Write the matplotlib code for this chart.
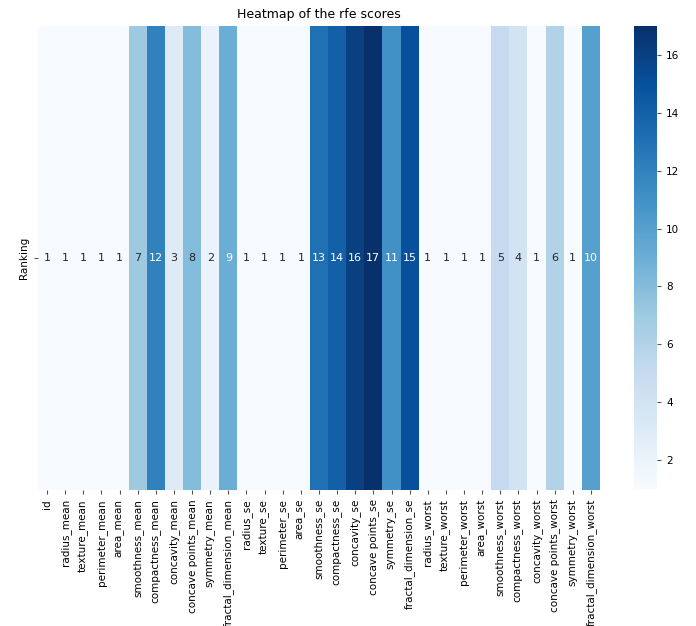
import numpy as np
import pandas as pd
import matplotlib
matplotlib.use("Agg")
import matplotlib.pyplot as plt
import seaborn as sns

features = ["id", "radius_mean", "texture_mean", "perimeter_mean", "area_mean",
            "smoothness_mean", "compactness_mean", "concavity_mean",
            "concave points_mean", "symmetry_mean", "fractal_dimension_mean",
            "radius_se", "texture_se", "perimeter_se", "area_se", "smoothness_se",
            "compactness_se", "concavity_se", "concave points_se", "symmetry_se",
            "fractal_dimension_se", "radius_worst", "texture_worst",
            "perimeter_worst", "area_worst", "smoothness_worst",
            "compactness_worst", "concavity_worst", "concave points_worst",
            "symmetry_worst", "fractal_dimension_worst"]
ranking = [1, 1, 1, 1, 1, 7, 12, 3, 8, 2, 9, 1, 1, 1, 1, 13, 14, 16, 17, 11, 15,
           1, 1, 1, 1, 5, 4, 1, 6, 1, 10]

df = pd.DataFrame([ranking], columns=features, index=["Ranking"])

fig = plt.figure(figsize=(6.96, 6.26), dpi=100)
ax = fig.add_axes([38/696, 1-490/626, 562/696, 464/626])
cax = fig.add_axes([634/696, 1-489/626, 23/696, 463/626])

sns.heatmap(df, annot=True, cmap="Blues", ax=ax, cbar_ax=cax,
            annot_kws={"fontsize": 8})
ax.set_title("Heatmap of the rfe scores", fontsize=9)
ax.tick_params(axis="both", labelsize=7.5, length=3, color="#555555")
plt.setp(ax.get_xticklabels(), rotation=90)
plt.setp(ax.get_yticklabels(), rotation=90, va="center")
cax.tick_params(labelsize=7.5, length=3, color="#555555")
cax.set_yticks([2, 4, 6, 8, 10, 12, 14, 16])
for sp in cax.spines.values():
    sp.set_visible(False)

fig.savefig("out.png", dpi=100)
